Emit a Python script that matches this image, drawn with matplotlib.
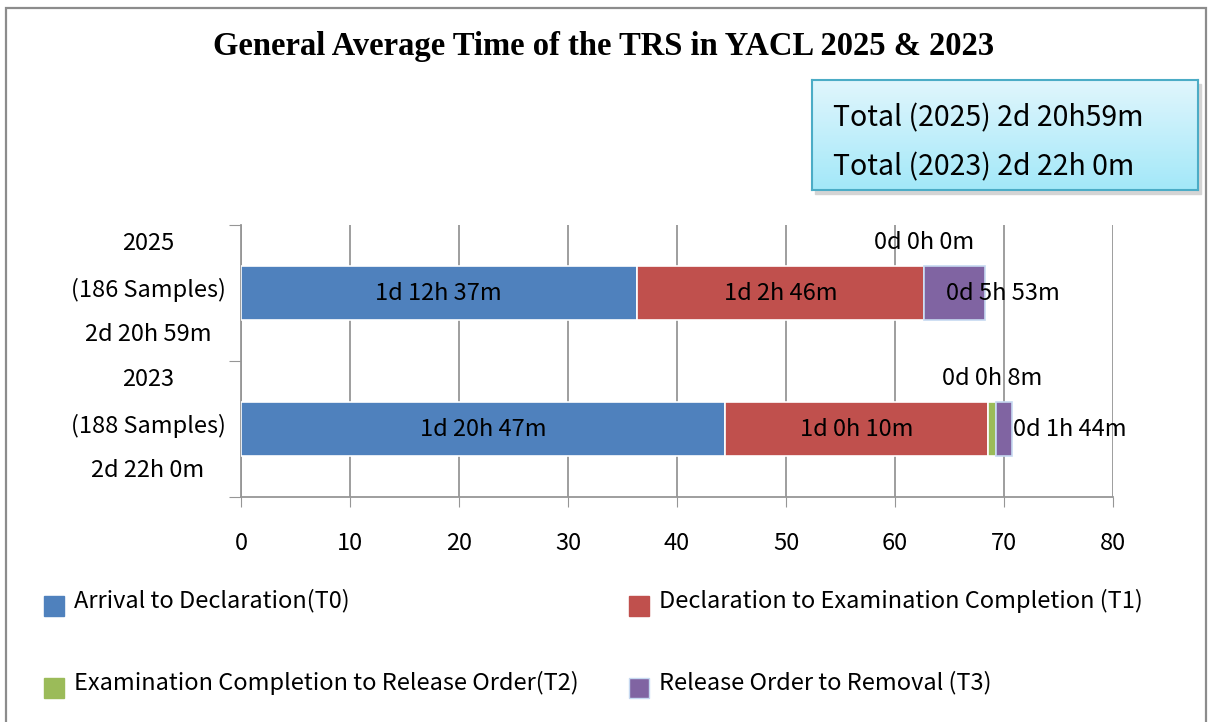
import numpy as np
import matplotlib.pyplot as plt
from matplotlib.patches import Rectangle

# data (hours)
years = ["2025", "2023"]
samples = ["(186 Samples)", "(188 Samples)"]
totals = ["2d 20h 59m", "2d 22h 0m"]
t0 = [36.3, 44.4]
t1 = [26.4, 24.1]
t2 = [0.0, 0.8]
t3 = [5.6, 1.4]
lab_t0 = ["1d 12h 37m", "1d 20h 47m"]
lab_t1 = ["1d 2h 46m", "1d 0h 10m"]
lab_t2 = ["0d 0h 0m", "0d 0h 8m"]
lab_t3 = ["0d 5h 53m", "0d 1h 44m"]
series = ["Arrival to Declaration(T0)",
          "Declaration to Examination Completion (T1)",
          "Examination Completion to Release Order(T2)",
          "Release Order to Removal (T3)"]
colors = ["#4F81BD", "#C0504D", "#9BBB59", "#8064A2"]
box_lines = ["Total (2025) 2d 20h59m", "Total (2023) 2d 22h 0m"]

SANS = ["Noto Sans CJK JP", "DejaVu Sans"]
plt.rcParams["font.family"] = SANS
FS = 17

W, H = 1208, 722
fig = plt.figure(figsize=(W / 100, H / 100), dpi=100)

def fx(px):
    return px / W

def fy(py):
    return 1 - py / H

# outer frame
fig.patches.append(Rectangle((fx(6), fy(740)), fx(1200), fy(8) - fy(740),
                             transform=fig.transFigure, fill=False,
                             edgecolor="#8c8c8c", lw=1.6))

fig.text(0.5, fy(46), "General Average Time of the TRS in YACL 2025 & 2023",
         ha="center", va="center", fontsize=23.5, fontweight="bold",
         family="Liberation Serif")

ax = fig.add_axes([fx(241), fy(497), fx(1113) - fx(241), fy(225) - fy(497)])
ypos = np.array([1, 0])
parts = [t0, t1, t2, t3]
left = np.zeros(2)
for i, vals in enumerate(parts):
    ec = "#c6d9f1" if i == 3 else "white"
    ax.barh(ypos, vals, left=left, height=0.4, color=colors[i],
            edgecolor=ec, lw=1.2, zorder=3)
    left = left + np.array(vals)

starts = np.cumsum([[0, 0]] + parts, axis=0)
for k in range(2):
    y = ypos[k]
    ax.text(starts[0][k] + t0[k] / 2, y, lab_t0[k], ha="center", va="center",
            fontsize=FS, zorder=5)
    ax.text(starts[1][k] + t1[k] / 2, y, lab_t1[k], ha="center", va="center",
            fontsize=FS, zorder=5)
    ax.text(starts[2][k] + t2[k] / 2, y + 0.37, lab_t2[k], ha="center",
            va="center", fontsize=FS, zorder=5)
ax.text(starts[3][0] + 2.0, ypos[0], lab_t3[0], ha="left", va="center",
        fontsize=FS, zorder=5)
ax.text(starts[4][1] + 0.1, ypos[1], lab_t3[1], ha="left", va="center",
        fontsize=FS, zorder=5)

ax.set_xlim(0, 80)
ax.set_ylim(-0.5, 1.5)
ax.set_xticks(np.arange(0, 81, 10))
ax.tick_params(axis="x", labelsize=FS, length=7, color="#969696", pad=18)
ax.set_yticks([-0.5, 0.5, 1.5])
ax.set_yticklabels([])
ax.tick_params(axis="y", length=9, color="#969696")
ax.grid(axis="x", color="#969696", lw=1.3, zorder=0)
for s in ["top", "right"]:
    ax.spines[s].set_visible(False)
for s in ["left", "bottom"]:
    ax.spines[s].set_color("#969696")
    ax.spines[s].set_linewidth(1.3)

# category labels: year, sample count, total
for k in range(2):
    ax.text(-93 / 872 * 80, ypos[k] + 0.03,
            "\n".join([years[k], samples[k], totals[k]]),
            ha="center", va="center", fontsize=FS, linespacing=2.17)

# totals box with a soft shadow
fig.patches.append(Rectangle((fx(815), fy(194)), fx(386), fy(80) - fy(190),
                             transform=fig.transFigure, color="#d4d4d4",
                             zorder=-1))
bx = fig.add_axes([fx(812), fy(190), fx(386), fy(80) - fy(190)], zorder=2)
grad = np.linspace(0, 1, 100).reshape(-1, 1)
c_top = np.array([0.88, 0.965, 0.99])
c_bot = np.array([0.64, 0.91, 0.975])
img = c_top + (c_bot - c_top) * grad[:, :, None]
bx.imshow(img, aspect="auto", extent=[0, 1, 0, 1])
bx.set_xticks([])
bx.set_yticks([])
for s in bx.spines.values():
    s.set_color("#4BACC6")
    s.set_linewidth(1.5)
bx.text(21 / 386, 0.65, box_lines[0], ha="left", va="center",
        fontsize=20.5, transform=bx.transAxes)
bx.text(21 / 386, 0.21, box_lines[1], ha="left", va="center",
        fontsize=20.5, transform=bx.transAxes)

# legend, laid out as in the original (two columns, two rows)
leg_pos = [(44, 606), (629, 606), (44, 688), (629, 688)]
for i, (px, py) in enumerate(leg_pos):
    ec = "#c6d9f1" if i == 3 else colors[i]
    fig.patches.append(Rectangle((fx(px), fy(py + 10)), fx(20), fy(0) - fy(20),
                                 transform=fig.transFigure, facecolor=colors[i],
                                 edgecolor=ec, lw=1))
    fig.text(fx(px + 30), fy(py - 5), series[i], ha="left", va="center",
             fontsize=FS)

fig.savefig("out.png", dpi=100)
